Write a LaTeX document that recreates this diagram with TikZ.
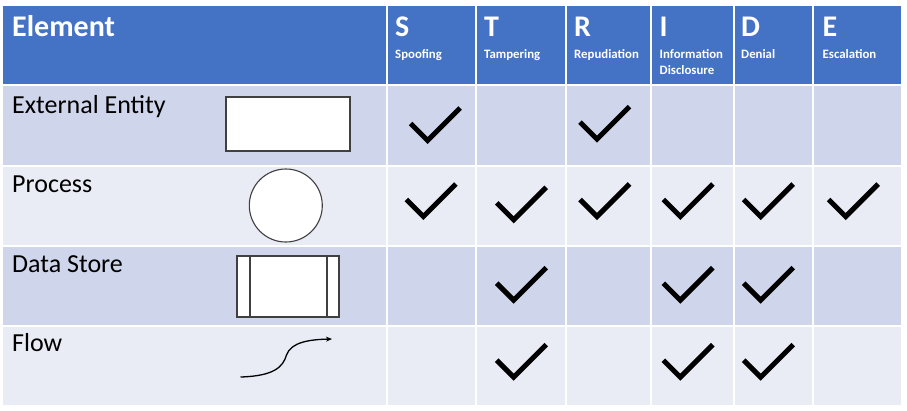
\documentclass[tikz,border=0pt]{standalone}
\usepackage{fontspec}
\setmainfont{Carlito}
\usetikzlibrary{arrows.meta}
\definecolor{hdr}{HTML}{4472C4}
\definecolor{rowA}{HTML}{CFD5EA}
\definecolor{rowB}{HTML}{E9EBF5}
\definecolor{shp}{HTML}{404040}
\tikzset{
  cell/.style={inner sep=0pt, outer sep=0pt},
  hdrtxt/.style={anchor=base west, inner sep=0pt, text=white, font=\fontsize{30}{33}\selectfont\bfseries},
  subtxt/.style={anchor=base west, inner sep=0pt, text=white, align=left, font=\fontsize{12.8}{16.5}\selectfont\bfseries},
  rowtxt/.style={anchor=base west, inner sep=0pt, text=black, font=\fontsize{26}{29}\selectfont},
  shape line/.style={draw=shp, line width=1.1pt, fill=white},
  chk/.pic={\draw[line width=5pt, line join=miter, line cap=butt] (-17,-17) -- (0,0) -- (32.5,-32.5);}
}
\begin{document}
\begin{tikzpicture}[x=1pt,y=-1pt]
\useasboundingbox (0,0) rectangle (907,410);
\fill[white] (0,0) rectangle (907,410);
% header row
\foreach \l/\r in {3/386, 388/475, 477/565, 567/650, 652/732.5, 734.5/812, 814/901}{
  \fill[hdr] (\l,6) rectangle (\r,84);
}
% body rows
\foreach \t/\b/\c in {86/165/rowA, 167/245/rowB, 247/325/rowA, 327/404.5/rowB}{
  \foreach \l/\r in {3/386, 388/475, 477/565, 567/650, 652/732.5, 734.5/812, 814/901}{
    \fill[\c] (\l,\t) rectangle (\r,\b);
  }
}
% header text
\node[hdrtxt] (hel) at (12,36.7) {Element};
\node[hdrtxt] (hs) at (395,36.7) {S};
\node[hdrtxt] (ht) at (484,36.7) {T};
\node[hdrtxt] (hr) at (574,36.7) {R};
\node[hdrtxt] (hi) at (659.5,36.7) {I};
\node[hdrtxt] (hd) at (741,36.7) {D};
\node[hdrtxt] (he) at (822.5,36.7) {E};
\node[subtxt] (ss) at (395,58.3) {Spoofing};
\node[subtxt] (st) at (484,58.3) {Tampering};
\node[subtxt] (sr) at (574,58.3) {Repudiation};
\node[subtxt] (si) at (659.5,74.8) {Information\\Disclosure};
\node[subtxt] (sd) at (741,58.3) {Denial};
\node[subtxt] (se) at (822.5,58.3) {Escalation};
% row labels
\node[rowtxt] (r1) at (12,113.3) {External Entity};
\node[rowtxt] (r2) at (12,192.5) {Process};
\node[rowtxt] (r3) at (12,272.3) {Data Store};
\node[rowtxt] (r4) at (12,351.7) {Flow};
% symbols
\node[shape line, cell, minimum width=124pt, minimum height=54pt] (ee) at (288,124) {};
\node[shape line, cell, circle, minimum size=73pt] (pr) at (285.8,205.5) {};
\node[shape line, cell, minimum width=102pt, minimum height=61pt] (ds) at (288,286.5) {};
\draw[shp, line width=1.1pt] ([xshift=13pt]ds.north west) -- ([xshift=13pt]ds.south west);
\draw[shp, line width=1.1pt] ([xshift=-12pt]ds.north east) -- ([xshift=-12pt]ds.south east);
\coordinate (fa) at (240.5,377);
\coordinate (fb) at (332,339);
\draw[line width=1.3pt, -{Stealth[length=6pt,width=5pt]}] (fa) .. controls (274,376) and (283,367) .. (286.5,355) .. controls (291,342) and (310,339.5) .. (fb);
% checkmarks (vertex of centerline)
\foreach \x/\y in {427.7/144, 597/142.7,
  423.3/220, 513.7/223.3, 597/220, 680.3/220, 760.7/220, 845.7/220,
  513.7/303.7, 680.3/303.7, 760.7/303.7,
  513.7/380.7, 680.3/380.7, 760.7/380.7}{
  \pic at (\x,\y-3.5) {chk};
}
\end{tikzpicture}
\end{document}
